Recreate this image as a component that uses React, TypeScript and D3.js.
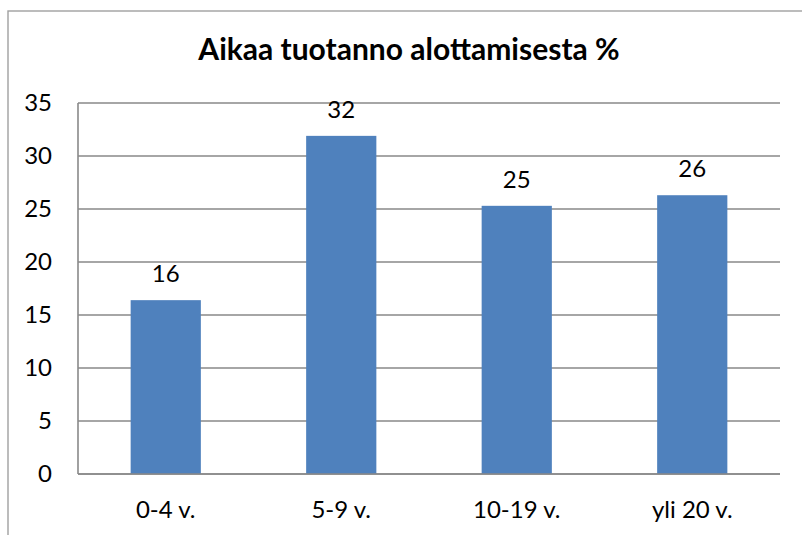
import React from 'react';
import * as d3 from 'd3';

// chart data
const categories = ['0-4 v.', '5-9 v.', '10-19 v.', 'yli 20 v.'];
const values = [16.4, 31.9, 25.3, 26.3];
const valueLabels = ['16', '32', '25', '26'];
const yTicks = [0, 5, 10, 15, 20, 25, 30, 35];
const title = 'Aikaa tuotanno alottamisesta %';

const W = 802;
const H = 535;
const plot = { left: 78, right: 780, top: 103, bottom: 474 };
const font = 'Lato, "Open Sans", sans-serif';

const App = () => {
  const x = d3.scaleBand<string>()
    .domain(categories)
    .range([plot.left, plot.right])
    .paddingInner(0.6)
    .paddingOuter(0.3);

  const y = d3.scaleLinear()
    .domain([0, 35])
    .range([plot.bottom, plot.top]);

  const grid = '#898989';

  return (
    <svg width={W} height={H} style={{ position: 'absolute', left: 0, top: 0, background: '#fff' }}>
      {/* outer chart border, runs off the right and bottom edges */}
      <rect x={8} y={11} width={W + 20} height={H + 20} fill="#fff" stroke="#a0a0a0" strokeWidth={1.4} />

      <text x={409} y={60} textAnchor="middle" fontFamily={font} fontWeight="bold" fontSize={30} fill="#000">
        {title}
      </text>

      {/* gridlines */}
      {yTicks.map(t => (
        <line key={t} x1={plot.left} x2={plot.right} y1={y(t)} y2={y(t)} stroke={grid} strokeWidth={1.6} />
      ))}
      <line x1={plot.left} x2={plot.left} y1={y(35)} y2={y(0)} stroke={grid} strokeWidth={1.6} />

      {/* y tick labels */}
      {yTicks.map(t => (
        <text key={t} x={52} y={y(t)} dy="0.35em" textAnchor="end" fontFamily={font} fontSize={24} fill="#000">
          {t}
        </text>
      ))}

      {/* bars */}
      {categories.map((c, i) => (
        <rect key={c} x={x(c)} y={y(values[i])} width={x.bandwidth()} height={y(0) - y(values[i])} fill="#4F81BD" />
      ))}
      <line x1={plot.left} x2={plot.right} y1={y(0)} y2={y(0)} stroke={grid} strokeWidth={1.6} />

      {/* data labels */}
      {categories.map((c, i) => (
        <text key={c} x={(x(c) ?? 0) + x.bandwidth() / 2} y={y(values[i]) - 18} textAnchor="middle"
          fontFamily={font} fontSize={24} fill="#000">
          {valueLabels[i]}
        </text>
      ))}

      {/* x labels */}
      {categories.map(c => (
        <text key={c} x={(x(c) ?? 0) + x.bandwidth() / 2} y={518} textAnchor="middle"
          fontFamily={font} fontSize={24} fill="#000">
          {c}
        </text>
      ))}
    </svg>
  );
};

export default App;
